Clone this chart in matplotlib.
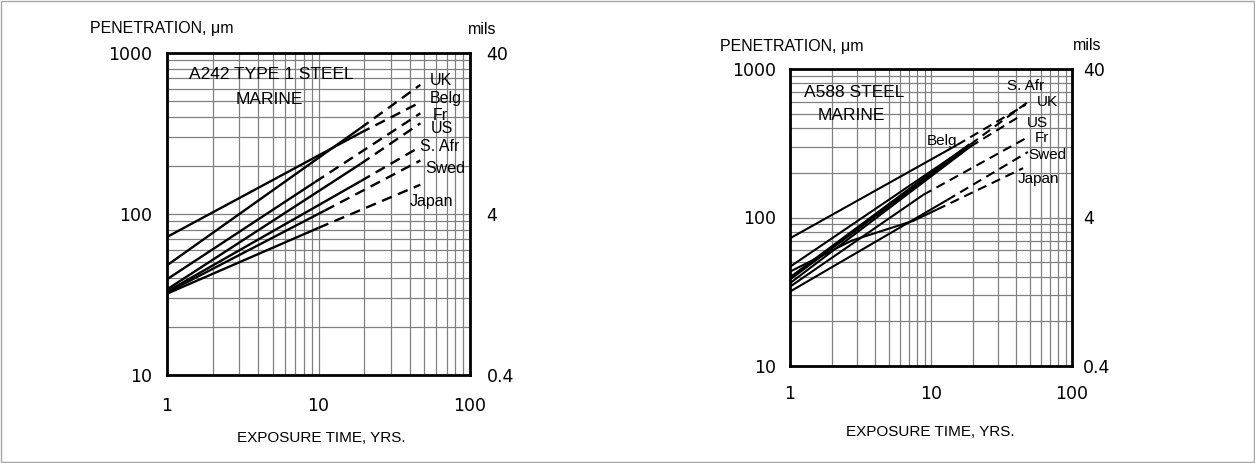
import matplotlib
matplotlib.use("Agg")
import matplotlib.pyplot as plt
from matplotlib.patches import Rectangle
from matplotlib.ticker import LogLocator, NullFormatter

# ---------------- data (penetration, um vs exposure time, yrs) ----------------
A242_countries = ["UK", "Belg", "Fr", "US", "S. Afr", "Swed", "Japan"]
A242_solid_yrs = [[1, 18.8], [1, 18.8], [1, 9.5], [1, 19], [1, 19], [1, 11], [1, 10]]
A242_solid_um = [[48, 340], [72, 318], [39.3, 158], [34, 205], [33, 160], [32.5, 105], [32, 82]]
A242_dash_yrs = [[18.8, 47], [18.8, 47], [9.5, 47], [19, 47], [19, 47], [11, 47], [10, 47]]
A242_dash_um = [[340, 634], [318, 494], [158, 422], [205, 366], [160, 262], [105, 215], [82, 152]]

A588_countries = ["S. Afr", "UK", "Belg", "US", "Fr", "Swed", "Japan"]
A588_solid_yrs = [[1, 15.3], [1, 19], [1, 18.9], [1, 19], [1, 8.8], [1, 13], [1, 2.75, 7.5, 11]]
A588_solid_um = [[72.4, 308], [46.6, 310], [38.9, 308], [36.1, 300], [34.2, 142], [31.7, 131], [43.2, 70, 95, 113]]
A588_dash_yrs = [[15.3, 47], [19, 48.7], [], [19, 43], [8.8, 48.7], [13, 48.7], [11, 45]]
A588_dash_um = [[308, 575], [310, 600], [], [300, 483], [142, 348], [131, 276], [113, 215]]

y_ticks_um = [10, 100, 1000]
y_ticks_mils = [0.4, 4, 40]
x_ticks_yrs = [1, 10, 100]

# label anchor positions (data coordinates)
A242_label_pos = [(54.4, 679), (54.4, 525), (57, 412), (55, 342), (46.8, 264), (50.5, 191), (40.2, 119)]
A588_label_pos = [(34.5, 770), (56, 595), (9.37, 327), (48, 433), (54.6, 343), (48.7, 264), (41.4, 182)]

# ---------------- figure ----------------
W, H = 1255, 463
fig = plt.figure(figsize=(W / 100, H / 100), dpi=100)
fig.patch.set_facecolor("white")
fig.add_artist(Rectangle((0.0008, 0.002), 0.9984, 0.995, transform=fig.transFigure,
                         fill=False, ec="0.65", lw=1.0))

TXT = "Liberation Sans"
NUM = "DejaVu Sans"


def px_axes(x0, y0, x1, y1):
    return [x0 / W, 1 - y1 / H, (x1 - x0) / W, (y1 - y0) / H]


def make_panel(rect, countries, s_yrs, s_um, d_yrs, d_um, label_pos, title, lwmain,
               thick_idx, ylab_xy, mils_xy, xlab_xy, xpad, lpad, rpad, lab_fs):
    ax = fig.add_axes(px_axes(*rect))
    ax.set_xscale("log")
    ax.set_yscale("log")
    ax.set_xlim(1, 100)
    ax.set_ylim(10, 1000)
    ax.xaxis.set_minor_locator(LogLocator(base=10, subs=range(2, 10)))
    ax.yaxis.set_minor_locator(LogLocator(base=10, subs=range(2, 10)))
    ax.xaxis.set_minor_formatter(NullFormatter())
    ax.yaxis.set_minor_formatter(NullFormatter())
    ax.grid(True, which="both", color="0.5", lw=0.9)
    ax.set_axisbelow(True)
    for sp in ax.spines.values():
        sp.set_linewidth(2.0)
        sp.set_color("black")
    ax.set_xticks(x_ticks_yrs)
    ax.set_xticklabels([str(v) for v in x_ticks_yrs], fontfamily=NUM, fontsize=12.5)
    ax.set_yticks(y_ticks_um)
    ax.set_yticklabels([str(v) for v in y_ticks_um], fontfamily=NUM, fontsize=12.5)
    ax.tick_params(which="both", length=0)
    ax.tick_params(axis="x", pad=xpad)
    ax.tick_params(axis="y", pad=lpad)

    for i, c in enumerate(countries):
        lw = 2.8 if i == thick_idx else lwmain
        ax.plot(s_yrs[i], s_um[i], color="black", lw=lw, solid_capstyle="butt", zorder=3)
        if d_yrs[i]:
            ax.plot(d_yrs[i], d_um[i], color="black", lw=lwmain, linestyle=(0, (4.5, 2.8)),
                    zorder=3)
        lx, ly = label_pos[i]
        ax.text(lx, ly, c, fontfamily=TXT, fontsize=lab_fs, ha="left", va="center",
                zorder=4)

    for t, tx, ty in title:
        ax.text(tx, ty, t, transform=ax.transAxes, fontfamily=TXT,
                fontsize=12.5, ha="center", va="center")

    ax2 = ax.twinx()
    ax2.set_yscale("log")
    ax2.set_ylim(0.4, 40)
    ax2.yaxis.set_minor_formatter(NullFormatter())
    ax2.set_yticks(y_ticks_mils)
    ax2.set_yticklabels(["0.4", "4", "40"], fontfamily=NUM, fontsize=12.5)
    ax2.tick_params(which="both", length=0, pad=rpad)
    for sp in ax2.spines.values():
        sp.set_visible(False)

    fig.text(ylab_xy[0] / W, 1 - ylab_xy[1] / H, "PENETRATION, \u03bcm", fontfamily=TXT,
             fontsize=11.5, ha="left", va="center")
    fig.text(mils_xy[0] / W, 1 - mils_xy[1] / H, "mils", fontfamily=TXT,
             fontsize=11.5, ha="left", va="center")
    fig.text(xlab_xy[0] / W, 1 - xlab_xy[1] / H, "EXPOSURE TIME, YRS.", fontfamily=TXT,
             fontsize=11, ha="center", va="center")
    return ax


make_panel((167, 53, 470, 375), A242_countries, A242_solid_yrs, A242_solid_um,
           A242_dash_yrs, A242_dash_um, A242_label_pos,
           [("A242 TYPE 1 STEEL", 0.343, 0.932), ("MARINE", 0.337, 0.857)],
           1.7, None, (90, 29), (468, 29), (321, 438), 16, 11, 12, 11.5)

make_panel((790, 69, 1072, 366), A588_countries, A588_solid_yrs, A588_solid_um,
           A588_dash_yrs, A588_dash_um, A588_label_pos,
           [("A588 STEEL", 0.227, 0.920), ("MARINE", 0.217, 0.845)],
           1.5, 2, (720, 46), (1073, 46), (930, 432), 14, 10, 8, 11)

fig.savefig("out.png", dpi=100)
